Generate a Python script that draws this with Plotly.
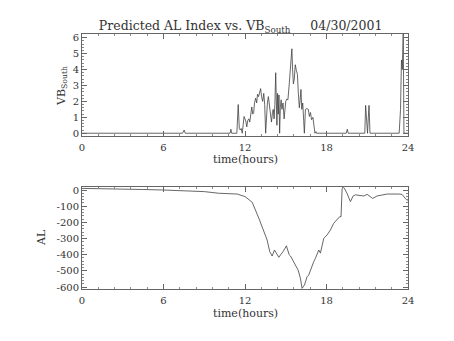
import plotly.graph_objects as go
from plotly.subplots import make_subplots

# Southward IMF (VB_south) series, hours of day
vb_time = [0, 7.4, 7.52, 7.6, 10.9, 10.96, 11.02, 11.4, 11.5, 11.58, 11.65, 11.72, 11.8, 11.87,
           11.93, 12.0, 12.06, 12.13, 12.2, 12.28, 12.35, 12.42, 12.5, 12.57, 12.64, 12.7, 12.78,
           12.86, 12.92, 13.0, 13.08, 13.15, 13.22, 13.3, 13.38, 13.45, 13.52, 13.58, 13.65, 13.72,
           13.8, 13.88, 13.95, 14.02, 14.08, 14.14, 14.2, 14.26, 14.3, 14.35, 14.4, 14.45, 14.5,
           14.55, 14.6, 14.66, 14.72, 14.8, 14.88, 14.95, 15.0, 15.08, 15.16, 15.24, 15.3, 15.4,
           15.45, 15.5, 15.56, 15.63, 15.7, 15.78, 15.86, 15.92, 16.0, 16.06, 16.12, 16.18, 16.25,
           16.32, 16.37, 16.45, 16.55, 16.66, 16.74, 16.82, 16.9, 17.0, 17.07, 17.15, 17.22, 17.26,
           19.45, 19.53, 19.6, 20.82, 20.88, 20.96, 21.02, 21.08, 21.13, 21.2,
           23.35, 23.45, 23.52, 23.58, 23.65, 23.7, 24.0]
vb_south = [0, 0, 0.2, 0, 0, 0.25, 0, 0, 1.8, 0.3, 0.2, 0.3, 0, 0.6,
            1.05, 0.9, 0.75, 0.4, 0.8, 0.9, 0.7, 1.15, 1.65, 1.2, 1.3, 1.9, 2.2,
            1.9, 2.45, 2.3, 2.7, 2.8, 2.3, 2.0, 2.5, 1.8, 0, 1.2, 1.9, 2.3,
            1.7, 1.1, 0.7, 1.3, 1.5, 0.9, 1.8, 3.8, 2.2, 0.5, 2.5, 1.2, 2.4,
            0, 1.6, 2.1, 1.5, 1.9, 0.9, 1.4, 2.0, 2.15, 2.1, 2.9, 3.8, 4.5,
            5.3, 4.1, 3.1, 3.4, 4.3, 3.95, 3.7, 2.6, 1.6, 2.1, 2.75, 1.5, 1.9,
            0.8, 0, 1.5, 1.55, 1.5, 1.05, 1.3, 0.85, 1.0, 0.3, 0, 0.1, 0,
            0, 0.25, 0, 0, 1.75, 0.3, 0, 1.0, 1.75, 0,
            0, 1.5, 4.6, 4.0, 6.3, 0, 0]

# Predicted AL index (nT)
al_time = [0, 1.5, 3.09, 4.5, 6.0, 7.5, 9.02, 10.05, 11.0, 11.43, 12.01, 12.53, 13.02, 13.51,
           13.63, 13.82, 14.0, 14.17, 14.32, 14.49, 14.61, 14.81, 15.05, 15.25, 15.35, 15.59,
           15.91, 16.08, 16.2, 16.38, 16.57, 16.69, 16.82, 17.06, 17.18, 17.43, 17.55, 17.8,
           18.04, 18.29, 18.53, 18.78, 18.97, 19.07, 19.15, 19.27, 19.51, 19.76, 19.96, 20.13,
           20.37, 20.74, 20.99, 21.18, 21.4, 21.72, 22.09, 22.46, 23.31, 23.56, 23.8, 23.97]
al_index = [10, 9, 8, 3, 0, -4, -10, -20, -22, -25, -41, -76, -175, -289,
            -309, -381, -408, -371, -392, -416, -402, -380, -345, -400, -408, -443,
            -495, -546, -608, -587, -536, -526, -495, -443, -423, -371, -390, -299,
            -278, -247, -206, -186, -165, -165, 8, 16, -20, -72, -37, -30,
            -31, -37, -27, -37, -52, -37, -31, -25, -25, -27, -52, -66]

x_ticks = [0, 6, 12, 18, 24]
vb_ticks = [0, 1, 2, 3, 4, 5, 6]
al_ticks = [0, -100, -200, -300, -400, -500, -600]
al_ticktext = ["0", "-100", "-200", "-300", "-400", "-500", "-600"]

ink = "#333333"
line_ink = "#404040"
serif = "DejaVu Serif"

fig = make_subplots(rows=2, cols=1, vertical_spacing=0.2)
fig.add_trace(go.Scatter(x=vb_time, y=vb_south, mode="lines",
                         line=dict(color=line_ink, width=0.8), showlegend=False), row=1, col=1)
fig.add_trace(go.Scatter(x=al_time, y=al_index, mode="lines",
                         line=dict(color=line_ink, width=0.8), showlegend=False), row=2, col=1)

axis_common = dict(showline=True, linecolor="#666", linewidth=1, mirror="ticks",
                   ticks="inside", ticklen=5, tickcolor="#666", showgrid=False,
                   zeroline=False, tickfont=dict(family=serif, size=10, color=ink))

fig.update_xaxes(**axis_common, range=[0, 24], tickvals=x_ticks, ticklabelstandoff=2,
                 minor=dict(dtick=1.2, ticks="inside", ticklen=2, tickcolor="#888"))
fig.update_xaxes(domain=[0, 1])
fig.update_yaxes(**axis_common)

fig.update_yaxes(row=1, col=1, range=[-0.19, 6.23], tickvals=vb_ticks, domain=[0.599, 1.0],
                 minor=dict(dtick=0.2, ticks="inside", ticklen=2, tickcolor="#888"))
fig.update_yaxes(row=2, col=1, range=[-612, 17], tickvals=al_ticks, ticktext=al_ticktext,
                 domain=[0.0, 0.399],
                 minor=dict(dtick=20, ticks="inside", ticklen=2, tickcolor="#888"))

fig.update_layout(
    width=454, height=341,
    margin=dict(l=82, r=46, t=34, b=52),
    paper_bgcolor="white", plot_bgcolor="white",
    title=dict(text="Predicted AL Index vs. VB<sub>South</sub>     04/30/2001",
               x=0.53, xanchor="center", y=1 - 25.5 / 341, yanchor="middle",
               yref="container", font=dict(family=serif, size=12.5, color=ink)),
)

txt = dict(family=serif, size=11, color=ink)
plot_top, plot_h, plot_l, plot_w = 34, 255, 82, 326

# x-axis titles under each panel, placed by page pixel row
for label, row_px in [("time(hours)", 159), ("time(hours)", 313)]:
    fig.add_annotation(text=label, x=0.5, xref="paper",
                       y=(plot_top + plot_h - row_px) / plot_h, yref="paper",
                       showarrow=False, font=txt, xanchor="center", yanchor="middle")

fig.add_annotation(text="VB<sub>South</sub>", textangle=-90, x=(62 - plot_l) / plot_w,
                   xref="paper", y=(plot_top + plot_h - 86) / plot_h, yref="paper",
                   showarrow=False, font=txt, xanchor="center", yanchor="middle")
fig.add_annotation(text="AL", textangle=-90, x=(41 - plot_l) / plot_w, xref="paper",
                   y=(plot_top + plot_h - 238) / plot_h, yref="paper", showarrow=False,
                   font=txt, xanchor="center", yanchor="middle")

fig.write_html("out.html")
